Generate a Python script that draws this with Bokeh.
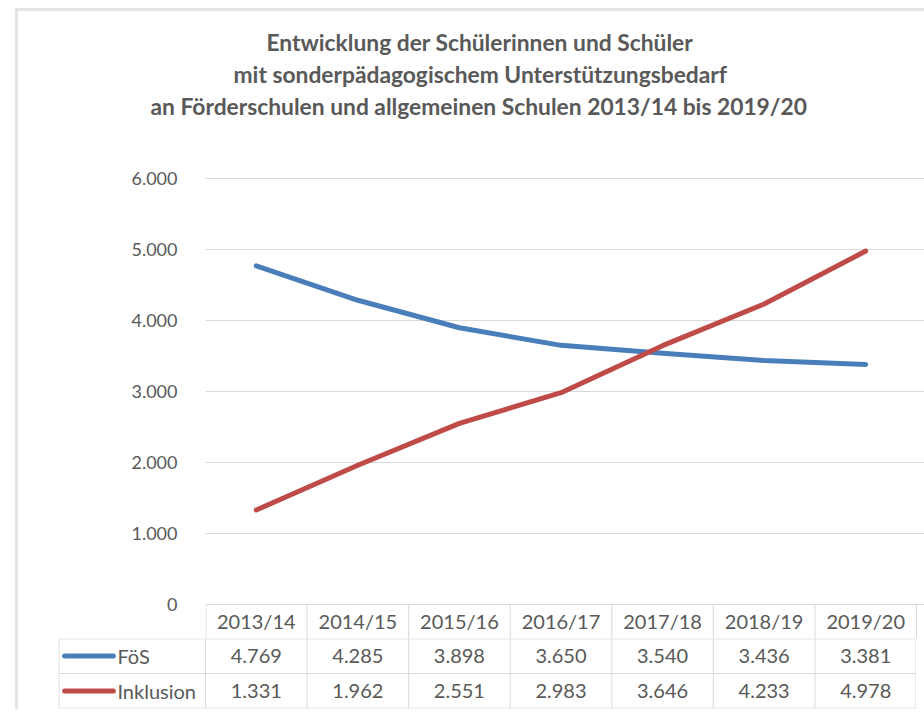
from bokeh.plotting import figure
from bokeh.models import Range1d, FixedTicker, Title, Spacer
from bokeh.layouts import column, row
from bokeh.core.properties import value
from bokeh.embed import file_html
from bokeh.resources import INLINE

# ---- data ----
years = ["2013/14", "2014/15", "2015/16", "2016/17", "2017/18", "2018/19", "2019/20"]
foes = [4769, 4285, 3898, 3650, 3540, 3436, 3381]
inklusion = [1331, 1962, 2551, 2983, 3646, 4233, 4978]
series_names = ["FöS", "Inklusion"]
y_ticks = [0, 1000, 2000, 3000, 4000, 5000, 6000]
y_tick_labels = ["0", "1.000", "2.000", "3.000", "4.000", "5.000", "6.000"]
title_lines = ["Entwicklung der Schülerinnen und Schüler",
               "mit sonderpädagogischem Unterstützungsbedarf",
               "an Förderschulen und allgemeinen Schulen 2013/14 bis 2019/20"]
title_offsets = [61, 28, -55]   # left offsets of each title line from the plot area edge

def de(v):
    return f"{v:,}".replace(",", ".")

BLUE = "#4a7ebb"
RED = "#be4b48"
GRID = "#d9d9d9"
TXT = "#595959"
FONT = "Lato"
TITLE_SIZE = "22.8px"

xs = list(range(len(years)))

# ---- top figure: chart + header row ----
HEADER_LOW = -479
X_END_A = 6.5 + 8 / 101.57
p = figure(width=906, height=627, output_backend="svg", toolbar_location=None,
           x_range=Range1d(-0.5, X_END_A), y_range=Range1d(HEADER_LOW, 6113),
           min_border_left=187, min_border_right=0, min_border_top=159, min_border_bottom=0,
           frame_align=False)
p.outline_line_color = None
p.xaxis.visible = False
p.xgrid.visible = False
p.yaxis.ticker = FixedTicker(ticks=y_ticks)
p.yaxis.major_label_overrides = {t: l for t, l in zip(y_ticks, y_tick_labels)}
p.yaxis.axis_line_color = None
p.yaxis.major_tick_line_color = None
p.yaxis.minor_tick_line_color = None
p.yaxis.major_label_standoff = 22
p.yaxis.major_label_text_font = FONT
p.yaxis.major_label_text_font_size = "18px"
p.yaxis.major_label_text_color = TXT
p.ygrid.grid_line_color = GRID
p.ygrid.grid_line_width = 1

def style_title(tt, offset, standoff):
    tt.align = "left"
    tt.offset = offset
    tt.text_font = FONT
    tt.text_font_size = TITLE_SIZE
    tt.text_font_style = "bold"
    tt.text_color = TXT
    tt.standoff = standoff

p.title.text = title_lines[0]
style_title(p.title, title_offsets[0], 2)
# small invisible spacer panel between plot area and the title block
gap = Title(text=" ", text_font_size="1px", standoff=47)
p.add_layout(gap, "above")
for i in [2, 1]:
    tt = Title(text=title_lines[i])
    style_title(tt, title_offsets[i], 2)
    p.add_layout(tt, "above")

p.line(xs, foes, line_color=BLUE, line_width=5, line_cap="round", line_join="round")
p.line(xs, inklusion, line_color=RED, line_width=5, line_cap="round", line_join="round")

# header row of data table
bx = [i - 0.5 for i in range(len(years) + 1)]
bx[0] += 0.005
p.segment(x0=bx, y0=[0] * len(bx), x1=bx, y1=[HEADER_LOW] * len(bx), line_color=GRID, line_width=1)
p.text(x=xs, y=[HEADER_LOW / 2] * len(xs), text=years, text_align="center", text_baseline="middle",
       text_font=value(FONT), text_font_size="20px", text_color=TXT)

# ---- bottom figure: series rows ----
LEFT = -1.947
t = figure(width=898, height=71, output_backend="svg", toolbar_location=None,
           x_range=Range1d(LEFT, 6.5), y_range=Range1d(0, 2),
           min_border_left=40, min_border_right=0, min_border_top=0, min_border_bottom=1,
           frame_align=False)
t.outline_line_color = None
t.axis.visible = False
t.grid.visible = False

vx = [LEFT + 0.005] + [i - 0.5 for i in range(len(years) + 1)]
vx[-1] -= 0.005
t.segment(x0=vx, y0=[0] * len(vx), x1=vx, y1=[2] * len(vx), line_color=GRID, line_width=1)
hy = [0.01, 1, 1.99]
t.segment(x0=[LEFT] * 3, y0=hy, x1=[6.5] * 3, y1=hy, line_color=GRID, line_width=1)

rows_y = [1.5, 0.5]
for vals, name, col, ry in zip([foes, inklusion], series_names, [BLUE, RED], rows_y):
    t.text(x=xs, y=[ry] * len(xs), text=[de(v) for v in vals], text_align="center",
           text_baseline="middle", text_font=value(FONT), text_font_size="20px", text_color=TXT)
    t.segment(x0=[LEFT + 0.06], y0=[ry], x1=[LEFT + 0.54], y1=[ry], line_color=col,
              line_width=5, line_cap="round")
    t.text(x=[LEFT + 0.58], y=[ry], text=[name], text_align="left", text_baseline="middle",
           text_font=value(FONT), text_font_size="20px", text_color=TXT)

layout = column(Spacer(height=8),
                row(Spacer(width=15),
                    column(p, t, styles={"border-left": "3px solid #e4e4e4",
                                         "border-top": "3px solid #e4e4e4"})))

open("out.html", "w").write(file_html(layout, INLINE))
